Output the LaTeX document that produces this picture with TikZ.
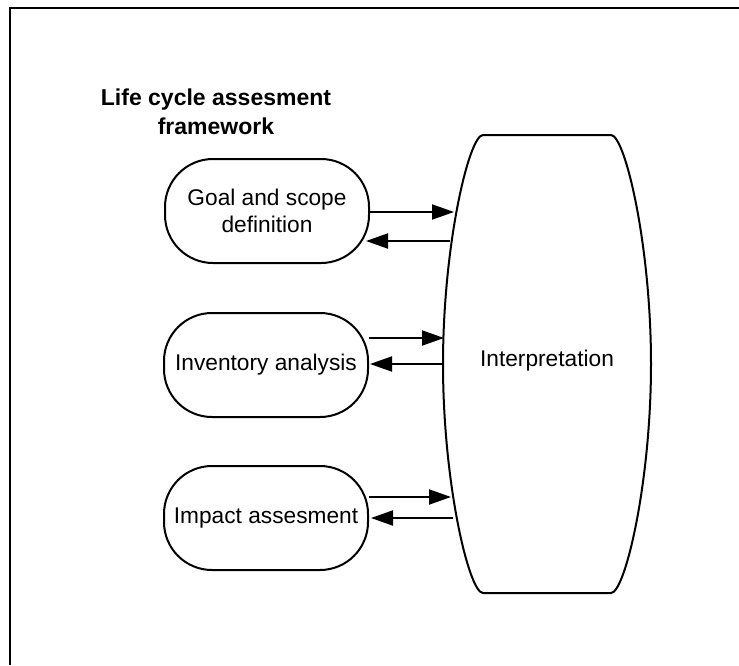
\documentclass[tikz,border=0pt]{standalone}
\usepackage{fontspec}
\setmainfont{Liberation Sans}
\usetikzlibrary{arrows.meta}
\begin{document}
\begin{tikzpicture}[x=1pt,y=-1pt,
  every node/.style={font=\fontsize{22.7}{27}\selectfont},
  stage/.style={draw, line width=2pt, rounded corners=48pt,
    minimum width=204pt, minimum height=104pt, align=center, inner sep=0pt},
  flow/.style={line width=2pt, -{Triangle[length=22pt,width=15pt]}},
  outline/.style={line width=2pt}]
\useasboundingbox (0,0) rectangle (739,665);
% open frame (only the left and top edges fall inside the page)
\draw[line width=2.6pt] (10,665) -- (10,8) -- (739,8);

% heading
\node[align=center, font=\fontsize{23}{29}\selectfont\bfseries] (title) at (216,112)
  {Life cycle assesment\\framework};

% the three phases
\node[stage] (goal) at (267,211) {Goal and scope\\definition};
\node[stage] (inv)  at (266,365) {Inventory analysis};
\node[stage] (imp)  at (266,518) {Impact assesment};

% interpretation: barrel outline with bulging sides
\draw[outline] (483,135) -- (611,135)
  .. controls (625,135) and (651,245) .. (651,364)
  .. controls (651,483) and (625,593) .. (611,593)
  -- (483,593)
  .. controls (469,593) and (443,483) .. (443,364)
  .. controls (443,245) and (469,135) .. (483,135) -- cycle;
\node (interp) at (547,361) {Interpretation};

% points where the arrows meet the left side
\coordinate (g1) at (454,212);
\coordinate (g2) at (450,241);
\coordinate (v1) at (444,338);
\coordinate (v2) at (443,364);
\coordinate (m1) at (451,497);
\coordinate (m2) at (453,518);

\draw[flow] (goal.east |- g1) -- (g1);
\draw[flow] (g2) -- ([xshift=-4pt]goal.east |- g2);
\draw[flow] (inv.east |- v1) -- (v1);
\draw[flow] (v2) -- ([xshift=1pt]inv.east |- v2);
\draw[flow] (imp.east |- m1) -- (m1);
\draw[flow] (m2) -- ([xshift=2pt]imp.east |- m2);
\end{tikzpicture}
\end{document}
